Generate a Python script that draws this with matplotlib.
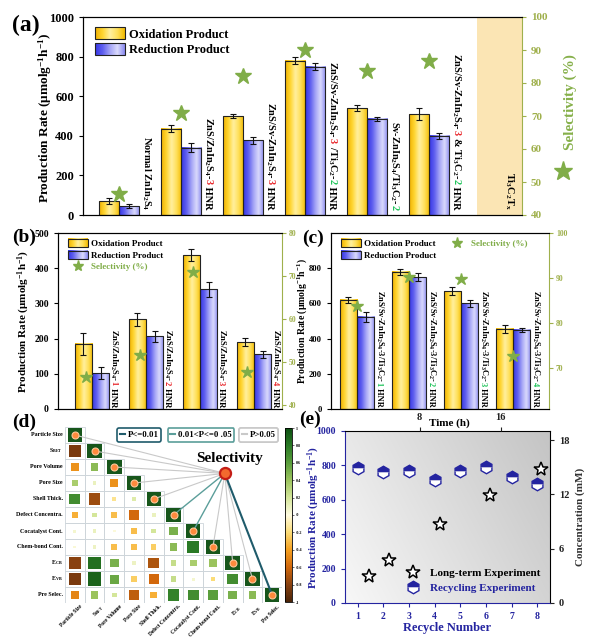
import numpy as np
import matplotlib
matplotlib.use('Agg')
import matplotlib.pyplot as plt
from matplotlib.colors import LinearSegmentedColormap, Normalize
from matplotlib.patches import Rectangle, Patch
from matplotlib.lines import Line2D
from matplotlib.legend_handler import HandlerBase
from matplotlib.image import BboxImage
from matplotlib.transforms import Bbox, TransformedBbox
from matplotlib.cm import ScalarMappable

plt.rcParams['font.family'] = ['Liberation Serif', 'DejaVu Sans']
plt.rcParams['font.weight'] = 'bold'
plt.rcParams['axes.labelweight'] = 'bold'
plt.rcParams['mathtext.fontset'] = 'custom'
plt.rcParams['mathtext.rm'] = 'Liberation Serif:bold'
plt.rcParams['mathtext.it'] = 'Liberation Serif:bold'
plt.rcParams['mathtext.bf'] = 'Liberation Serif:bold'

# ---- data ----
# (a) catalyst comparison
a_ox = [70, 435, 500, 780, 540, 510]
a_ox_err = [15, 18, 12, 18, 15, 30]
a_red = [45, 340, 378, 750, 485, 400]
a_red_err = [12, 22, 18, 20, 12, 15]
a_sel = [46.4, 71.0, 82.2, 90.0, 83.6, 86.7]

# (b) ZnS/ZnIn2S4-n HNR
b_ox = [185, 255, 437, 190]
b_ox_err = [32, 18, 17, 12]
b_red = [102, 207, 340, 155]
b_red_err = [18, 16, 22, 10]
b_sel = [46.4, 51.6, 70.9, 47.6]

# (c) ZnS/Sv-ZnIn2S4-3/Ti3C2-n HNR
c_ox = [620, 780, 670, 455]
c_ox_err = [15, 18, 25, 25]
c_red = [525, 750, 600, 450]
c_red_err = [28, 20, 18, 12]
c_sel = [83.8, 90.3, 89.7, 72.7]

# (d) correlation matrix (lower triangle) and p-value class of each link to selectivity
d_names = ['Particle Size', 'S$_{BET}$', 'Pore Volume', 'Pore Size', 'Shell Thick.',
           'Defect Concentra.', 'Cocatalyst Cont.', 'Chem-bond Cont.', 'E$_{CB}$',
           'E$_{VB}$', 'Pre Selec.']
corr_rows = [
    [],
    [-0.85],
    [-0.45, 0.45],
    [0.35, 0.1, -0.45],
    [0.7, -0.75, -0.15, 0.15],
    [-0.35, 0.2, -0.3, -0.6, 0.1],
    [0.05, 0.1, 0.02, -0.3, 0.2, 0.5],
    [0.03, 0.08, -0.3, -0.3, -0.25, 0.45, 0.8],
    [-0.8, 0.85, 0.5, 0.08, -0.7, 0.25, 0.35, 0.4],
    [-0.85, 0.9, 0.55, -0.25, -0.6, 0.25, 0.05, -0.2, 0.7],
    [-0.5, 0.4, 0.2, -0.65, -0.35, 0.75, 0.7, 0.6, 0.5, 0.45],
]
p_class = [2, 2, 2, 2, 2, 1, 1, 2, 2, 2, 0]
p_labels = ['P<=0.01', '0.01<P<=0 .05', 'P>0.05']

# (e) stability
cycles = [1, 2, 3, 4, 5, 6, 7, 8]
cycle_rate = [785, 760, 768, 715, 767, 793, 735, 690]
lt_time = [3, 5, 10, 15, 20]
lt_conc = [3.0, 4.8, 8.75, 11.9, 14.8]

RED = '#e8262a'
GRN = '#1fc45a'
STAR = '#80ad48'
OLV = '#9fb04c'
BLU = '#2424a0'

a_labels = [
    [('Normal ZnIn$_2$S$_4$', 'k')],
    [('ZnS/ZnIn$_2$S$_4$-', 'k'), ('3', RED), (' HNR', 'k')],
    [('ZnS/Sv-ZnIn$_2$S$_4$-', 'k'), ('3', RED), (' HNR', 'k')],
    [('ZnS/Sv-ZnIn$_2$S$_4$-', 'k'), ('3', RED), (' /Ti$_3$C$_2$-', 'k'), ('2', GRN), (' HNR', 'k')],
    [('Sv-ZnIn$_2$S$_4$/Ti$_3$C$_2$-', 'k'), ('2', GRN)],
    [('ZnS/Sv-ZnIn$_2$S$_4$-', 'k'), ('3', RED), (' & Ti$_3$C$_2$-', 'k'), ('2', GRN), (' HNR', 'k')],
]
b_labels = [[('ZnS/ZnIn$_2$S$_4$-', 'k'), (n, RED), (' HNR', 'k')] for n in ['1', '2', '3', '4']]
c_labels = [[('ZnS/Sv-ZnIn$_2$S$_4$-3/Ti$_3$C$_2$-', 'k'), (n, GRN), (' HNR', 'k')] for n in ['1', '2', '3', '4']]

ox_cmap = LinearSegmentedColormap.from_list('ox', ['#efb000', '#ffd530', '#fff0a0', '#ffe05a', '#f2ba00'])
red_cmap = LinearSegmentedColormap.from_list('rd', ['#3535e6', '#5e5eef', '#a4a4f6', '#dadafc', '#8888f0'])
d_cmap = LinearSegmentedColormap.from_list('d', ['#4a2408', '#8a4210', '#d2680c', '#f5a020', '#fbdc78',
                                                 '#fffbe0', '#d4e69a', '#9cc45e', '#5a9e3c', '#2a7a25', '#0d4f12'])
grad = np.linspace(0, 1, 128).reshape(1, -1)

fig = plt.figure(figsize=(5.89, 6.37), dpi=100)
W, H = 589, 637


def px_rect(l, t, r, b):
    return [l / W, 1 - b / H, (r - l) / W, (b - t) / H]


def grad_bars(ax, xs, hs, w, cmap):
    for x, h in zip(xs, hs):
        ax.imshow(grad, cmap=cmap, aspect='auto', extent=(x - w / 2, x + w / 2, 0, h),
                  interpolation='bicubic', zorder=2)
        ax.add_patch(Rectangle((x - w / 2, 0), w, h, fc='none', ec='#222222', lw=0.8, zorder=3))


def vlabel(ax, x, y, parts, size):
    r = fig.canvas.get_renderer()
    lens = []
    for s, c in parts:
        t = ax.text(0, 0, s, fontsize=size)
        lens.append(t.get_window_extent(r).width * 72 / fig.dpi)
        t.remove()
    off = sum(lens)
    for (s, c), L in zip(parts, lens):
        ax.annotate(s, xy=(x, y), xycoords='data', xytext=(0, off), textcoords='offset points',
                    rotation=270, rotation_mode='anchor', ha='left', va='baseline',
                    color=c, fontsize=size, annotation_clip=False, zorder=5)
        off -= L


class GradHandler(HandlerBase):
    def __init__(self, cmap):
        super().__init__()
        self.cmap = cmap

    def create_artists(self, legend, orig_handle, xdescent, ydescent, width, height, fontsize, trans):
        bb = TransformedBbox(Bbox.from_bounds(-xdescent, -ydescent, width, height), trans)
        img = BboxImage(bb, cmap=self.cmap, interpolation='bicubic')
        img.set_data(grad)
        rect = Rectangle((-xdescent, -ydescent), width, height, fc='none', ec='#222222',
                         lw=0.8, transform=trans)
        return [img, rect]


h_ox = Patch(fc='#ffd530')
h_red = Patch(fc='#6a6af0')
h_star = Line2D([], [], ls='none', marker='*', ms=8, color=STAR)
hmap = {h_ox: GradHandler(ox_cmap), h_red: GradHandler(red_cmap)}


def bar_panel(rect, ox, oxe, red, rede, w, xlim, ylim, yticks, slim, sticks, fs):
    ax = fig.add_axes(rect)
    x = np.arange(len(ox))
    grad_bars(ax, x - w / 2, ox, w, ox_cmap)
    grad_bars(ax, x + w / 2, red, w, red_cmap)
    ax.errorbar(x - w / 2, ox, yerr=oxe, fmt='none', ecolor='#111111', elinewidth=0.8,
                capsize=2.5, capthick=0.8, zorder=4)
    ax.errorbar(x + w / 2, red, yerr=rede, fmt='none', ecolor='#111111', elinewidth=0.8,
                capsize=2.5, capthick=0.8, zorder=4)
    ax.set_xticks([])
    ax.set_yticks(yticks)
    ax.tick_params(axis='y', labelsize=fs, length=3)
    ax.spines['right'].set_visible(False)
    ax2 = ax.twinx()
    ax2.set_ylim(*slim)
    ax2.set_yticks(sticks)
    ax2.tick_params(axis='y', colors=OLV, labelsize=fs - 1, length=3)
    ax2.spines['right'].set_color(OLV)
    ax.set_xlim(*xlim)
    ax.set_ylim(*ylim)
    return ax, ax2, x


# ---- (a) ----
ax_a, ax_a2, xa = bar_panel(px_rect(83, 17, 522, 215), a_ox, a_ox_err, a_red, a_red_err,
                            0.33, (-0.58, 6.5), (0, 1000), range(0, 1001, 200),
                            (40, 100), range(40, 101, 10), 9)
ax_a.axvspan(5.77, 6.6, color='#fbe5b4', lw=0, zorder=0)
ax_a.set_xlim(-0.58, 6.5)
ax_a2.plot(xa, a_sel, ls='none', marker='*', ms=12, color=STAR)
ax_a.set_ylabel('Production Rate (μmolg$^{-1}$h$^{-1}$)', fontsize=9.5, labelpad=3)
ax_a.yaxis.set_label_coords(-0.065, 0.49)
ax_a2.set_ylabel('Selectivity (%)', fontsize=11, color='#86b04a')
ax_a2.yaxis.set_label_coords(1.095, 0.57)
ax_a2.plot([1.093], [0.22], marker='*', ms=14, color=STAR, transform=ax_a2.transAxes, clip_on=False)
for i, parts in enumerate(a_labels):
    vlabel(ax_a, i + 0.39, 25, parts, 7.5)
vlabel(ax_a, 6.25, 25, [('Ti$_3$C$_2$T$_x$', 'k')], 7.5)
ax_a.legend([h_ox, h_red], ['Oxidation Product', 'Reduction Product'], handler_map=hmap,
            loc='upper left', bbox_to_anchor=(0.01, 0.985), frameon=False, fontsize=9,
            handlelength=2.4, handleheight=1.05, handletextpad=0.3, labelspacing=0.2,
            borderaxespad=0.2)
fig.text(12 / W, 1 - 31 / H, '(a)', fontsize=17, va='baseline')

# ---- (b) ----
ax_b, ax_b2, xb = bar_panel(px_rect(58, 233, 282, 409), b_ox, b_ox_err, b_red, b_red_err,
                            0.32, (-0.63, 3.52), (0, 500), range(0, 501, 100),
                            (39, 80), range(40, 81, 10), 7)
ax_b2.tick_params(axis='y', labelsize=5.5, pad=2)
ax_b2.plot(xb - 0.12, b_sel, ls='none', marker='*', ms=9, color=STAR)
ax_b.set_ylabel('Production Rate (μmolg$^{-1}$h$^{-1}$)', fontsize=8, labelpad=2)
for i, parts in enumerate(b_labels):
    vlabel(ax_b, i + 0.35, 6, parts, 6.2)
lg = ax_b.legend([h_ox, h_red, h_star], ['Oxidation Product', 'Reduction Product', 'Selectivity (%)'],
                 handler_map=hmap, loc='upper left', bbox_to_anchor=(0.02, 0.995), frameon=False,
                 fontsize=6.5, handlelength=2.2, handleheight=1.0, handletextpad=0.4,
                 labelspacing=0.25, borderaxespad=0.2)
lg.get_texts()[2].set_color(STAR)
fig.text(12 / W, 1 - 242 / H, '(b)', fontsize=14, va='baseline')

# ---- (c) ----
ax_c, ax_c2, xc = bar_panel(px_rect(331, 233, 549, 409), c_ox, c_ox_err, c_red, c_red_err,
                            0.33, (-0.5, 3.69), (0, 1000), range(0, 801, 200),
                            (61, 100), range(70, 101, 10), 6.2)
ax_c2.tick_params(axis='y', labelsize=5.5, pad=2)
ax_c2.plot(xc, c_sel, ls='none', marker='*', ms=9, color=STAR)
ax_c.set_ylabel('Production Rate (μmolg$^{-1}$h$^{-1}$)', fontsize=7)
ax_c.yaxis.set_label_coords(-0.1, 0.5)
for i, parts in enumerate(c_labels):
    vlabel(ax_c, i + 0.38, 10, parts, 6.0)
lg = ax_c.legend([h_ox, h_red, h_star], ['Oxidation Product', 'Reduction Product', 'Selectivity (%)'],
                 handler_map=hmap, ncol=2, loc='upper left', bbox_to_anchor=(0.02, 0.995),
                 frameon=False, fontsize=6.5, handlelength=2.2, handleheight=1.0,
                 handletextpad=0.4, labelspacing=0.25, columnspacing=1.2, borderaxespad=0.2)
lg.get_texts()[2].set_color(STAR)
fig.text(302 / W, 1 - 243 / H, '(c)', fontsize=14, va='baseline')

# ---- (d) ----
ax_d = fig.add_axes(px_rect(65, 427, 282, 603))
ax_d.set_xlim(-0.5, 10.5)
ax_d.set_ylim(10.5, -0.5)
ax_d.axis('off')
pos = ax_d.get_position()
ratio = (pos.height * fig.get_figheight()) / (pos.width * fig.get_figwidth())
norm = Normalize(-1, 1)
n = len(d_names)
for i in range(n):
    for j in range(i + 1):
        ax_d.add_patch(Rectangle((j - 0.5, i - 0.5), 1, 1, fc='none', ec='#cdd5da', lw=0.6, zorder=1))
    for j, v in enumerate(corr_rows[i]):
        s = 0.15 + 0.75 * abs(v)
        ax_d.add_patch(Rectangle((j - s * ratio / 2, i - s / 2), s * ratio, s,
                                 fc=d_cmap(norm(v)), ec='none', zorder=2))
    ax_d.add_patch(Rectangle((i - 0.45 * ratio, i - 0.45), 0.9 * ratio, 0.9, fc='#17561b', ec='none', zorder=2))
    ax_d.text(-0.6, i, d_names[i], ha='right', va='center', fontsize=4.3)
    ax_d.text(i + 0.25, 10.55, d_names[i], ha='right', va='top', rotation=45, rotation_mode='anchor',
              fontsize=4.0)

sx, sy = 7.6, 2.4
line_cols = ['#1f5b6b', '#5b9e9a', '#c9c9c9']
line_w = [1.5, 1.0, 0.8]
for i in range(n):
    k = p_class[i]
    ax_d.plot([sx, i], [sy, i], color=line_cols[k], lw=line_w[k], zorder=2.5 if k == 2 else 2.6)
    ax_d.plot(i, i, 'o', ms=5, mfc='#ff8a3d', mec='#ffc79a', mew=0.8, zorder=3)
ax_d.plot(sx, sy, 'o', ms=8, mfc='#f26a2e', mec='#c41d16', mew=1.6, zorder=4)
ax_d.text(7.85, 1.45, 'Selectivity', ha='center', va='center', fontsize=11)
for k, cx in enumerate([0.341, 0.627, 0.892]):
    lg = ax_d.legend([Line2D([], [], color=line_cols[k], lw=1.5)], [p_labels[k]], loc='center',
                     bbox_to_anchor=(cx, 0.955), fontsize=6.3, handlelength=0.6, handletextpad=0.3,
                     borderpad=0.3, fancybox=True, framealpha=1, edgecolor=line_cols[k])
    lg.get_frame().set_linewidth(1.2)
    ax_d.add_artist(lg)

cax = fig.add_axes(px_rect(285, 428, 292, 602))
cticks = np.round(np.arange(-1, 1.01, 0.2), 1)
cb = fig.colorbar(ScalarMappable(norm=norm, cmap=d_cmap), cax=cax, ticks=cticks)
cb.ax.set_yticklabels([f'{v:g}' for v in cticks])
cb.ax.tick_params(labelsize=3, length=1.5, width=0.4, pad=1)
cb.outline.set_linewidth(0.6)
fig.text(12 / W, 1 - 427 / H, '(d)', fontsize=14, va='baseline')

# ---- (e) ----
pos_e = px_rect(345, 431, 550, 603)
ax_e = fig.add_axes(pos_e)
gx, gy = np.meshgrid(np.linspace(0, 1, 60), np.linspace(0, 1, 60))
g = 0.97 - 0.14 * gx - 0.06 * gy
ax_e.imshow(np.dstack([g, g, g]), origin='lower', extent=(0, 1, 0, 1), transform=ax_e.transAxes,
            aspect='auto', zorder=0, interpolation='bicubic')
ax_e.plot(cycles, cycle_rate, ls='none', marker='h', ms=9, fillstyle='top', mfc=BLU,
          mfcalt='white', mec=BLU, mew=1.0, zorder=3)
ax_e.set_xlim(0.5, 8.5)
ax_e.set_ylim(0, 1000)
ax_e.set_xticks(cycles)
ax_e.set_yticks(range(0, 1001, 200))
ax_e.tick_params(colors=BLU, labelsize=7, length=3)
ax_e.set_xlabel('Recycle Number', color=BLU, fontsize=9, labelpad=1)
ax_e.set_ylabel('Production Rate (μmolg$^{-1}$h$^{-1}$)', color=BLU, fontsize=8)
ax_e.yaxis.set_label_coords(-0.11, 0.5)
ax_e.spines['left'].set_color(BLU)
ax_e.spines['bottom'].set_color(BLU)

ax_s = fig.add_axes(pos_e, facecolor='none')
ax_s.plot(lt_time, lt_conc, ls='none', marker='*', ms=10, mfc='white', mec='black', mew=1.1, zorder=3)
ax_s.set_xlim(0.6, 20.9)
ax_s.set_ylim(0, 19)
ax_s.xaxis.tick_top()
ax_s.yaxis.tick_right()
ax_s.yaxis.set_label_position('right')
ax_s.set_xticks([8, 16])
ax_s.set_yticks([0, 6, 12, 18])
ax_s.tick_params(labelsize=7.5, length=3, colors='#222222')
ax_s.set_ylabel('Concentration (mM)', fontsize=8, color='#333333')
for sp in ax_s.spines.values():
    sp.set_visible(False)
ax_s.text(0.51, 1.015, 'Time (h)', transform=ax_s.transAxes, ha='center', va='bottom', fontsize=8)
h_lt = Line2D([], [], ls='none', marker='*', ms=10, mfc='white', mec='black', mew=1.1)
h_cy = Line2D([], [], ls='none', marker='h', ms=9, fillstyle='top', mfc=BLU, mfcalt='white', mec=BLU)
lg = ax_s.legend([h_lt, h_cy], ['Long-term Experiment', 'Recycling Experiment'], loc='lower right',
                 bbox_to_anchor=(1.0, 0.0), frameon=False, fontsize=8, handletextpad=0.5,
                 labelspacing=0.5)
lg.get_texts()[1].set_color(BLU)
fig.text(299 / W, 1 - 424 / H, '(e)', fontsize=14, va='baseline')

fig.savefig('out.png', dpi=100)
